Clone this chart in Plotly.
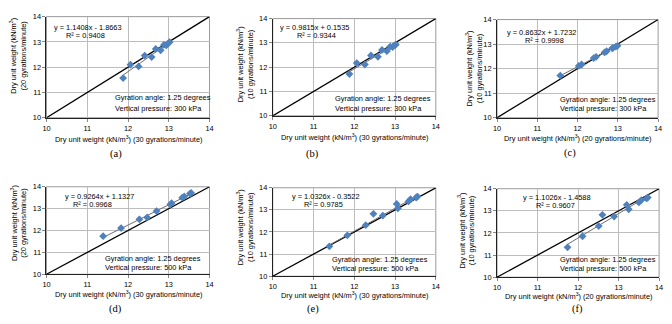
import plotly.graph_objects as go

# ---------------- data ----------------
# dry unit weight (kN/m3), 300 kPa vertical pressure
g30_300 = [11.88, 12.06, 12.26, 12.41, 12.58, 12.68, 12.80, 12.88, 12.94, 12.99, 13.02]
g20_300 = [11.57, 12.10, 12.03, 12.46, 12.40, 12.72, 12.67, 12.88, 12.86, 12.95, 12.99]
g10_300 = [11.72, 12.17, 12.11, 12.48, 12.43, 12.71, 12.66, 12.85, 12.83, 12.90, 12.93]
# dry unit weight (kN/m3), 500 kPa vertical pressure
g30_500 = [11.39, 11.83, 12.28, 12.47, 12.70, 13.04, 13.07, 13.33, 13.38, 13.52, 13.55]
g20_500 = [11.74, 12.11, 12.51, 12.60, 12.89, 13.20, 13.25, 13.50, 13.56, 13.69, 13.72]
g10_500 = [11.35, 11.85, 12.31, 12.82, 12.74, 13.27, 13.07, 13.38, 13.48, 13.56, 13.60]

slopes = [1.1408, 0.9815, 0.8632, 0.9264, 1.0326, 1.1026]
intercepts = [-1.8663, 0.1535, 1.7232, 1.1327, -0.3522, -1.4588]
equations = ["y = 1.1408x - 1.8663", "y = 0.9815x + 0.1535", "y = 0.8632x + 1.7232",
             "y = 0.9264x + 1.1327", "y = 1.0326x - 0.3522", "y = 1.1026x - 1.4588"]
r_squared = ["R² = 0.9408", "R² = 0.9344", "R² = 0.9998",
             "R² = 0.9968", "R² = 0.9785", "R² = 0.9607"]
x_rates = ["30", "30", "20", "30", "30", "20"]
y_rates = ["20", "10", "10", "20", "10", "10"]
pressures = ["300 kPa", "300 kPa", "300 kPa", "500 kPa", "500 kPa", "500 kPa"]
panel_labels = ["(a)", "(b)", "(c)", "(d)", "(e)", "(f)"]
ticks = [10, 11, 12, 13, 14]

panel_x = [g30_300, g30_300, g20_300, g30_500, g30_500, g20_500]
panel_y = [g20_300, g10_300, g10_300, g20_500, g10_500, g10_500]

# ---------------- layout (pixels) ----------------
W, H = 672, 324
# plot area: left, right, top, bottom
boxes = [(43, 208, 13, 117), (272, 437, 15, 115), (499, 662, 16, 117),
         (43, 208, 188, 278), (272, 437, 189, 280), (499, 663, 190, 281)]
# equation centre (domain frac), R2 centre, gyration text left
eq_pos = [(0.255, 0.894), (0.255, 0.91), (0.276, 0.871), (0.327, 0.889), (0.327, 0.90), (0.372, 0.90)]
r2_pos = [(0.242, 0.81), (0.267, 0.83), (0.294, 0.782), (0.285, 0.80), (0.31, 0.81), (0.36, 0.81)]
gy_pos = [(0.406, 0.20, 0.096), (0.37, 0.18, 0.08), (0.38, 0.188, 0.099),
          (0.345, 0.178, 0.078), (0.35, 0.187, 0.088), (0.378, 0.198, 0.099)]
ytitle_pos = [(13.5, 53), (244, 62), (476, 66), (14.5, 225), (243.5, 230), (467.5, 233)]
xtitle_y = [139, 137, 138, 298, 299.5, 300]
label_pos = [(113, 154), (312, 154), (573, 153), (113, 314), (313, 314), (580, 314)]

FONT = "Liberation Sans, Arial, sans-serif"
FS = 7.4
BLUE = "#4f81bd"

fig = go.Figure()
annotations = []
shapes = []
layout = {}

for i in range(6):
    n = "" if i == 0 else str(i + 1)
    l, r, t, b = boxes[i]
    xd = [l / W, r / W]
    yd = [1 - b / H, 1 - t / H]
    common = dict(range=[ticks[0], ticks[-1]], tickvals=ticks, showgrid=True,
                  gridcolor="#bdbdbd", gridwidth=1, zeroline=False,
                  showline=True, linecolor="#222222", linewidth=1,
                  ticks="outside", ticklen=3, tickcolor="#888888",
                  tickfont=dict(family=FONT, size=FS, color="#000"), fixedrange=True)
    layout["xaxis" + n] = dict(domain=xd, anchor="y" + n, **common)
    layout["yaxis" + n] = dict(domain=yd, anchor="x" + n, **common)

    xs = panel_x[i]
    ys = panel_y[i]
    # 1:1 line
    fig.add_trace(go.Scatter(x=[ticks[0], ticks[-1]], y=[ticks[0], ticks[-1]], mode="lines",
                             line=dict(color="#000", width=1.3), xaxis="x" + n, yaxis="y" + n,
                             showlegend=False, hoverinfo="skip"))
    # trend line
    tx = [min(xs), max(xs)]
    ty = [slopes[i] * v + intercepts[i] for v in tx]
    fig.add_trace(go.Scatter(x=tx, y=ty, mode="lines",
                             line=dict(color="#6e6e6e", width=1), xaxis="x" + n, yaxis="y" + n,
                             showlegend=False, hoverinfo="skip"))
    # data
    fig.add_trace(go.Scatter(x=xs, y=ys, mode="markers",
                             marker=dict(symbol="diamond", size=6, color=BLUE),
                             xaxis="x" + n, yaxis="y" + n, showlegend=False))

    # grey top/right border
    shapes.append(dict(type="rect", xref="x" + n + " domain", yref="y" + n + " domain",
                       x0=0, x1=1, y0=0, y1=1, line=dict(color="#9a9a9a", width=1),
                       layer="below"))

    xr = "x" + n + " domain"
    yr = "y" + n + " domain"
    annotations.append(dict(text=equations[i], x=eq_pos[i][0], y=eq_pos[i][1], xref=xr, yref=yr,
                            xanchor="center", yanchor="middle", showarrow=False,
                            font=dict(family=FONT, size=FS, color="#000")))
    annotations.append(dict(text=r_squared[i], x=r2_pos[i][0], y=r2_pos[i][1], xref=xr, yref=yr,
                            xanchor="center", yanchor="middle", showarrow=False,
                            font=dict(family=FONT, size=FS, color="#000")))
    annotations.append(dict(text="Gyration angle: 1.25 degrees", x=gy_pos[i][0], y=gy_pos[i][1],
                            xref=xr, yref=yr, xanchor="left", yanchor="middle", showarrow=False,
                            font=dict(family=FONT, size=FS, color="#000")))
    annotations.append(dict(text="Vertical pressure: " + pressures[i], x=gy_pos[i][0], y=gy_pos[i][2],
                            xref=xr, yref=yr, xanchor="left", yanchor="middle", showarrow=False,
                            font=dict(family=FONT, size=FS, color="#000")))
    # axis titles
    annotations.append(dict(text="Dry unit weight (kN/m<sup>3</sup>) (" + x_rates[i] + " gyrations/minute)",
                            x=(l + r) / 2 / W, y=1 - xtitle_y[i] / H, xref="paper", yref="paper",
                            xanchor="center", yanchor="middle", showarrow=False,
                            font=dict(family=FONT, size=FS, color="#000")))
    annotations.append(dict(text="Dry unit weight (kN/m<sup>3</sup>)<br>(" + y_rates[i] + " gyrations/minute)",
                            x=ytitle_pos[i][0] / W, y=1 - ytitle_pos[i][1] / H, xref="paper", yref="paper",
                            xanchor="center", yanchor="middle", textangle=-90, showarrow=False,
                            font=dict(family=FONT, size=FS, color="#000")))
    annotations.append(dict(text=panel_labels[i], x=label_pos[i][0] / W, y=1 - label_pos[i][1] / H,
                            xref="paper", yref="paper", xanchor="center", yanchor="middle",
                            showarrow=False,
                            font=dict(family="Liberation Serif, Times New Roman, serif", size=10.5,
                                      color="#000")))

fig.update_layout(width=W, height=H, margin=dict(l=0, r=0, t=0, b=0),
                  paper_bgcolor="white", plot_bgcolor="white", showlegend=False,
                  annotations=annotations, shapes=shapes, **layout)

fig.write_html("out.html", config={"displayModeBar": False},
               post_script="document.body.style.margin='0';document.body.style.overflow='hidden';")
